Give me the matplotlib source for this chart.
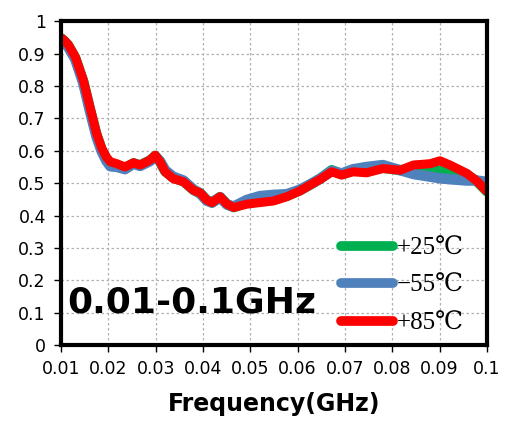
import matplotlib.pyplot as plt

# frequency points (GHz)
freq = [0.0100, 0.0105, 0.0115, 0.0130, 0.0147, 0.0161, 0.0175, 0.0186, 0.0196,
        0.0204, 0.0218, 0.0235, 0.0253, 0.0267, 0.0288, 0.0299, 0.0309, 0.0320,
        0.0337, 0.0359, 0.0380, 0.0394, 0.0408, 0.0419, 0.0436, 0.0451, 0.0465,
        0.0492, 0.0520, 0.0549, 0.0577, 0.0605, 0.0626, 0.0648, 0.0672, 0.0693,
        0.0717, 0.0746, 0.0780, 0.0817, 0.0845, 0.0880, 0.0901, 0.0922, 0.0958,
        0.0980, 0.1000]

gain_85 = [0.948, 0.943, 0.928, 0.890, 0.818, 0.735, 0.654, 0.608, 0.580,
           0.566, 0.560, 0.550, 0.563, 0.556, 0.571, 0.586, 0.566, 0.535,
           0.514, 0.504, 0.478, 0.470, 0.448, 0.440, 0.458, 0.435, 0.425,
           0.435, 0.440, 0.445, 0.458, 0.476, 0.494, 0.512, 0.535, 0.525,
           0.535, 0.532, 0.545, 0.540, 0.556, 0.560, 0.569, 0.556, 0.530,
           0.505, 0.475]

gain_m55 = [0.945, 0.938, 0.920, 0.882, 0.808, 0.722, 0.642, 0.597, 0.568,
            0.552, 0.550, 0.543, 0.560, 0.553, 0.568, 0.582, 0.568, 0.540,
            0.520, 0.508, 0.480, 0.468, 0.446, 0.440, 0.456, 0.434, 0.428,
            0.448, 0.460, 0.464, 0.466, 0.480, 0.496, 0.514, 0.538, 0.530,
            0.543, 0.550, 0.556, 0.540, 0.528, 0.520, 0.515, 0.512, 0.508,
            0.508, 0.504]

gain_25 = [0.947, 0.941, 0.925, 0.886, 0.813, 0.728, 0.648, 0.602, 0.574,
           0.560, 0.555, 0.546, 0.561, 0.555, 0.570, 0.584, 0.567, 0.537,
           0.517, 0.506, 0.479, 0.469, 0.447, 0.440, 0.457, 0.434, 0.426,
           0.440, 0.448, 0.452, 0.461, 0.478, 0.495, 0.514, 0.540, 0.528,
           0.539, 0.540, 0.548, 0.540, 0.545, 0.542, 0.538, 0.532, 0.525,
           0.505, 0.475]

labels = ["+25\u2103", "\u221255\u2103", "+85\u2103"]
colors = ["#00b050", "#4f81bd", "#ff0000"]

xticks = [0.01, 0.02, 0.03, 0.04, 0.05, 0.06, 0.07, 0.08, 0.09, 0.1]
xticklabels = ["0.01", "0.02", "0.03", "0.04", "0.05", "0.06", "0.07", "0.08", "0.09", "0.1"]
yticks = [0, 0.1, 0.2, 0.3, 0.4, 0.5, 0.6, 0.7, 0.8, 0.9, 1]
yticklabels = ["0", "0.1", "0.2", "0.3", "0.4", "0.5", "0.6", "0.7", "0.8", "0.9", "1"]

fig = plt.figure(figsize=(5.05, 4.23), dpi=100)
ax = fig.add_axes([0.121, 0.184, 0.843, 0.766])

ax.plot(freq, gain_25, color=colors[0], lw=7.5, label=labels[0], solid_capstyle="round")
ax.plot(freq, gain_m55, color=colors[1], lw=7.5, label=labels[1], solid_capstyle="round")
ax.plot(freq, gain_85, color=colors[2], lw=6.5, label=labels[2], solid_capstyle="round")

ax.set_xlim(0.01, 0.1)
ax.set_ylim(0, 1)
ax.set_xticks(xticks)
ax.set_xticklabels(xticklabels, fontsize=12.5)
ax.set_yticks(yticks)
ax.set_yticklabels(yticklabels, fontsize=12.5)
ax.tick_params(direction="out", length=5, width=1, pad=6)
ax.grid(True, color="#b0b0b0", linestyle=(0, (2, 2)), linewidth=0.9)
for s in ax.spines.values():
    s.set_linewidth(3)
    s.set_color("black")

ax.set_xlabel("Frequency(GHz)", fontsize=17, fontweight="bold", labelpad=10)

ax.text(0.015, 0.133, "0.01-0.1GHz", transform=ax.transAxes, fontsize=26,
        fontweight="bold", va="center", ha="left")

leg = ax.legend(loc="lower right", bbox_to_anchor=(1.0, -0.037), frameon=False,
                handlelength=2.1, handletextpad=0.15, labelspacing=0.6,
                prop={"family": ["Liberation Serif", "DejaVu Serif"], "size": 18})
for h in leg.get_lines():
    h.set_linewidth(7)
    h.set_solid_capstyle("round")

fig.savefig("out.png", dpi=100)
